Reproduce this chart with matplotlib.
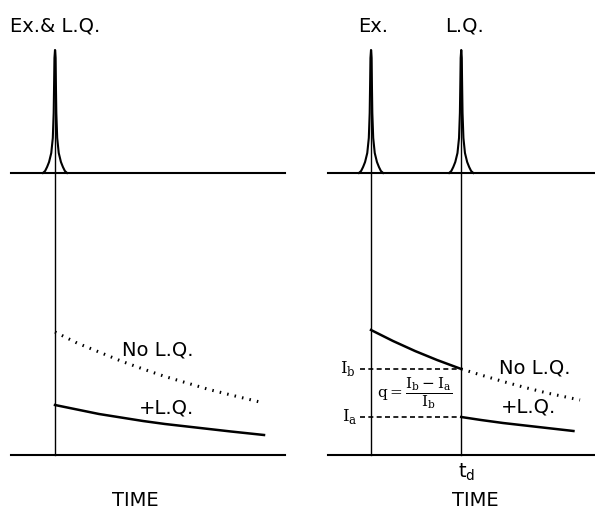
import numpy as np
import matplotlib
matplotlib.use("Agg")
import matplotlib.pyplot as plt

plt.rcParams['font.family'] = ['DejaVu Sans']

# forma del pulso (excitacion / L.Q.), desplazamiento en tiempo y altura
pulso_dt = [-0.55, -0.45, -0.36, -0.27, -0.17, -0.1, -0.06, -0.04, -0.025, 0.0,
            0.025, 0.04, 0.06, 0.1, 0.17, 0.27, 0.36, 0.45, 0.55]
pulso_h = [0, 2, 6, 11, 20, 35, 60, 90, 115, 123,
           115, 90, 60, 35, 20, 11, 6, 2, 0]
base_pulso = 282      # nivel de la traza superior
t_fin_base = [10.45, 10.2]

# panel izquierdo: Ex. y L.Q. simultaneos
t_izq = [0, 1, 2, 3, 4, 5, 6, 7, 8, 9.5]
sin_lq_izq = [123, 112, 103, 94, 86, 78.5, 72, 65.5, 60, 52]
con_lq_izq = [50, 45.5, 41, 37.5, 34, 31, 28.5, 26, 23.5, 20]

# panel derecho: L.Q. retrasado t_d
t_d = 4.1
t_antes = [0, 1, 2, 3, 4.1]
i_antes = [125, 114, 104, 95, 86]
t_sin = [4.1, 5, 6, 7, 8, 9.5]
i_sin = [86, 80, 73.5, 67.5, 62, 55]
t_con = [4.1, 5, 6, 7, 8, 9.2]
i_con = [38, 35, 32, 29.5, 27, 24]
I_b = i_antes[-1]
I_a = i_con[0]

fig = plt.figure(figsize=(5.95, 5.13), dpi=100)
ax1 = fig.add_axes([0, 0, 297 / 595, 1])
ax2 = fig.add_axes([298 / 595, 0, 297 / 595, 1])
ax1.set_xlim(-2.5, 11)
ax2.set_xlim(-3.318, 10.18)
for ax in (ax1, ax2):
    ax.set_ylim(-58, 455)
    ax.axis('off')

pdt = np.array(pulso_dt)
ph = np.array(pulso_h) + base_pulso
tapice = base_pulso + max(pulso_h)
punteado = (0, (0.5, 2.0))
fs = 14

# --- izquierda
ax1.plot([-2, t_fin_base[0]], [base_pulso, base_pulso], color='k', lw=1.5)
ax1.plot([-2, t_fin_base[0]], [0, 0], color='k', lw=1.5)
ax1.plot(pdt, ph, color='k', lw=1.5)
ax1.plot([0, 0], [0, tapice], color='k', lw=1)
ax1.plot(t_izq, sin_lq_izq, color='k', lw=2.2, linestyle=punteado)
ax1.plot(t_izq, con_lq_izq, color='k', lw=1.8)
ax1.text(-2.05, 423, 'Ex.& L.Q.', fontsize=fs, ha='left', va='baseline')
ax1.text(4.68, 105, 'No L.Q.', fontsize=fs, ha='center', va='center')
ax1.text(5.09, 47, '+L.Q.', fontsize=fs, ha='center', va='center')
ax1.text(3.64, -46, 'TIME', fontsize=fs, ha='center', va='center')

# --- derecha
ax2.plot([-1.95, t_fin_base[1]], [base_pulso, base_pulso], color='k', lw=1.5)
ax2.plot([-1.95, t_fin_base[1]], [0, 0], color='k', lw=1.5)
for tc in (0, t_d):
    ax2.plot(pdt + tc, ph, color='k', lw=1.5)
    ax2.plot([tc, tc], [0, tapice], color='k', lw=1)
ax2.plot(t_antes, i_antes, color='k', lw=1.8)
ax2.plot(t_sin, i_sin, color='k', lw=2.2, linestyle=punteado)
ax2.plot(t_con, i_con, color='k', lw=1.8)
ax2.plot([-0.5, t_d], [I_b, I_b], color='k', lw=1.2, linestyle=(0, (3, 2)))
ax2.plot([-0.5, t_d], [I_a, I_a], color='k', lw=1.2, linestyle=(0, (3, 2)))
ax2.text(-1.05, I_b, r'I$_\mathregular{b}$', fontsize=12, family='DejaVu Serif',
         ha='center', va='center')
ax2.text(-0.95, I_a, r'I$_\mathregular{a}$', fontsize=12, family='DejaVu Serif',
         ha='center', va='center')
ax2.text(2.0, 62, r'$\mathregular{q=}\dfrac{\mathregular{I_b-I_a}}{\mathregular{I_b}}$',
         fontsize=11, family='DejaVu Serif', ha='center', va='center')
ax2.text(0.1, 423, 'Ex.', fontsize=fs, ha='center', va='baseline')
ax2.text(4.27, 423, 'L.Q.', fontsize=fs, ha='center', va='baseline')
ax2.text(7.45, 87, 'No L.Q.', fontsize=fs, ha='center', va='center')
ax2.text(7.14, 48, '+L.Q.', fontsize=fs, ha='center', va='center')
ax2.text(4.36, -17, r't$_\mathregular{d}$', fontsize=fs, ha='center', va='center')
ax2.text(4.73, -46, 'TIME', fontsize=fs, ha='center', va='center')

fig.savefig('out.png', dpi=100)
